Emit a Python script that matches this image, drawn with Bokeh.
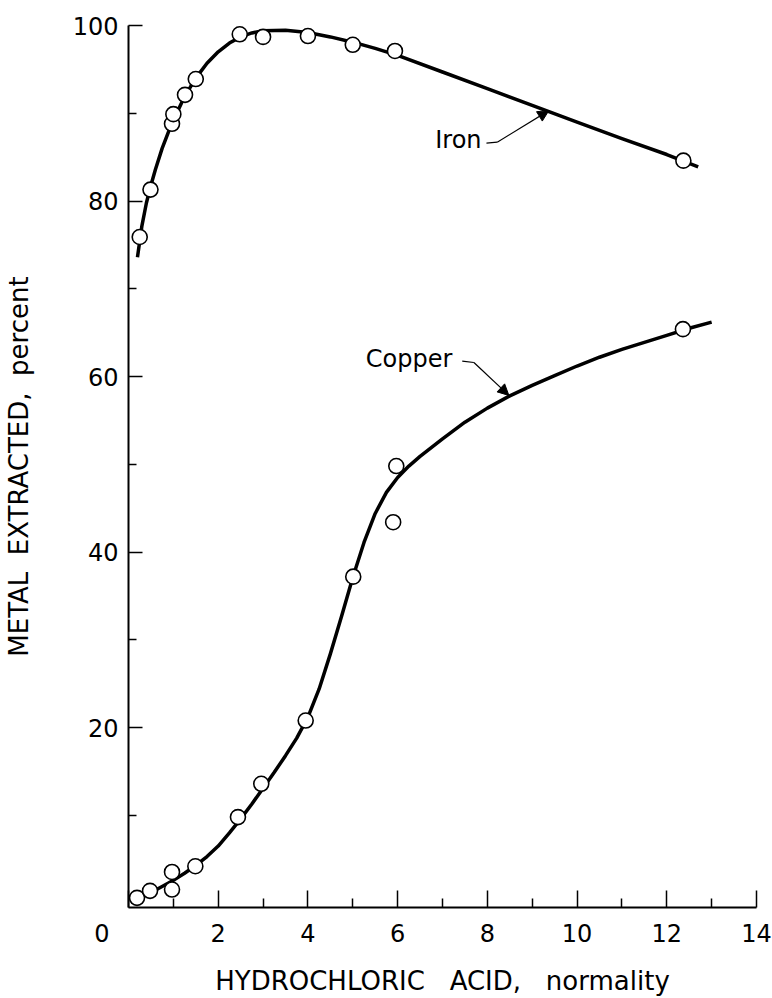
from bokeh.plotting import figure
from bokeh.models import FixedTicker, Range1d, Label, Arrow, NormalHead
from bokeh.embed import file_html
from bokeh.resources import INLINE

# ---------------- data ----------------
iron_x = [0.25, 0.49, 0.97, 1.0, 1.26, 1.5, 2.48, 3.0, 4.0, 5.0, 5.94, 12.37]
iron_y = [75.9, 81.3, 88.8, 89.9, 92.1, 93.9, 99.0, 98.7, 98.8, 97.8, 97.1, 84.6]

iron_curve_x = [0.2, 0.3, 0.4, 0.5, 0.6, 0.75, 0.9, 1.0, 1.25, 1.5, 1.75, 2.0, 2.25,
                2.5, 2.75, 3.0, 3.5, 4.0, 4.5, 5.0, 5.5, 6.0, 7.0, 8.0, 9.0, 10.0,
                11.0, 12.0, 12.7]
iron_curve_y = [73.6, 77.2, 79.8, 81.8, 83.6, 86.0, 88.0, 89.2, 91.9, 94.0, 95.7, 97.0,
                98.0, 98.7, 99.15, 99.4, 99.45, 99.2, 98.7, 98.1, 97.4, 96.6, 94.7,
                92.8, 90.9, 89.0, 87.1, 85.3, 83.9]

copper_x = [0.19, 0.48, 0.97, 0.97, 1.49, 2.44, 2.96, 3.95, 5.01, 5.9, 5.97, 12.36]
copper_y = [0.6, 1.4, 1.55, 3.55, 4.2, 9.8, 13.6, 20.8, 37.2, 43.4, 49.8, 65.4]

copper_curve_x = [0.05, 0.25, 0.5, 0.75, 1.0, 1.25, 1.5, 1.75, 2.0, 2.25, 2.5, 2.75,
                  3.0, 3.25, 3.5, 3.75, 4.0, 4.25, 4.5, 4.75, 5.0, 5.25, 5.5, 5.75,
                  6.0, 6.25, 6.5, 7.0, 7.5, 8.0, 8.5, 9.0, 9.5, 10.0, 10.5, 11.0,
                  11.5, 12.0, 12.5, 13.0]
copper_curve_y = [0.1, 0.6, 1.2, 1.9, 2.6, 3.4, 4.3, 5.3, 6.5, 8.0, 9.6, 11.3,
                  13.1, 14.9, 16.8, 18.8, 21.2, 24.4, 28.4, 32.7, 37.1, 41.1, 44.4, 46.8,
                  48.5, 49.8, 50.9, 52.9, 54.8, 56.4, 57.8, 59.0, 60.1, 61.2, 62.2, 63.1,
                  63.9, 64.7, 65.5, 66.2]

x_major = [0, 2, 4, 6, 8, 10, 12, 14]
x_minor = [1, 3, 5, 7, 9, 11, 13]
y_major = [20, 40, 60, 80, 100]
y_minor = [10, 30, 50, 70, 90]

series_labels = ["Iron", "Copper"]
label_pos = [(7.87, 86.9), (7.22, 62.0)]
leader_bend = [(7.98, 86.6, 8.22, 86.7), (7.44, 61.75, 7.70, 61.6)]
leader_tip = [(9.37, 90.3), (8.48, 57.85)]

FONT = "DejaVu Sans"
NB = "\u00a0"

p = figure(width=772, height=998,
           x_range=Range1d(0, 14), y_range=Range1d(-0.5, 100),
           output_backend="svg", toolbar_location=None,
           min_border_left=128, min_border_right=16, min_border_top=25,
           min_border_bottom=91)
p.outline_line_color = None
p.grid.visible = False
p.background_fill_color = "white"
p.border_fill_color = "white"

p.xaxis.ticker = FixedTicker(ticks=x_major, minor_ticks=x_minor)
p.yaxis.ticker = FixedTicker(ticks=y_major, minor_ticks=y_minor)
# the origin "0" sits to the left of the corner in the original
p.xaxis.major_label_overrides = {0: "0" + NB * 7}

for ax in (p.xaxis, p.yaxis):
    ax.axis_line_color = "black"
    ax.axis_line_width = 2
    ax.major_tick_out = 0
    ax.minor_tick_out = 0
    ax.major_tick_line_color = "black"
    ax.minor_tick_line_color = "black"
    ax.major_tick_line_width = 1.5
    ax.minor_tick_line_width = 1.5
    ax.major_label_text_font = FONT
    ax.major_label_text_font_size = "24px"
    ax.major_label_text_color = "black"
    ax.axis_label_text_font = FONT
    ax.axis_label_text_font_size = "26px"
    ax.axis_label_text_font_style = "normal"
    ax.axis_label_text_color = "black"

p.xaxis.major_tick_in = 17
p.xaxis.minor_tick_in = 9
p.yaxis.major_tick_in = 14
p.yaxis.minor_tick_in = 8
p.xaxis.major_label_standoff = 12
p.yaxis.major_label_standoff = 10
p.xaxis.axis_label = "HYDROCHLORIC" + NB + NB + NB + "ACID," + NB + NB + NB + "normality"
p.yaxis.axis_label = "METAL" + NB + NB + "EXTRACTED," + NB + NB + "percent"
p.xaxis.axis_label_standoff = 15
p.yaxis.axis_label_standoff = 36

# curves
p.line(iron_curve_x, iron_curve_y, line_color="black", line_width=3.5, line_join="round")
p.line(copper_curve_x, copper_curve_y, line_color="black", line_width=3.5, line_join="round")

# data points
p.scatter(iron_x, iron_y, marker="circle", size=15, fill_color="white",
          line_color="black", line_width=1.6)
p.scatter(copper_x, copper_y, marker="circle", size=15, fill_color="white",
          line_color="black", line_width=1.6)

# labels and leaders
for name, (lx, ly), (x0, y0, x1, y1), (tx, ty) in zip(series_labels, label_pos,
                                                     leader_bend, leader_tip):
    p.add_layout(Label(x=lx, y=ly, text=name, text_align="right",
                       text_baseline="middle", text_font=FONT,
                       text_font_size="24px", text_color="black"))
    p.line([x0, x1], [y0, y1], line_color="black", line_width=1.2)
    p.add_layout(Arrow(end=NormalHead(size=11, fill_color="black", line_color="black"),
                       x_start=x1, y_start=y1, x_end=tx, y_end=ty,
                       line_color="black", line_width=1.2))

open("out.html", "w").write(file_html(p, INLINE))
